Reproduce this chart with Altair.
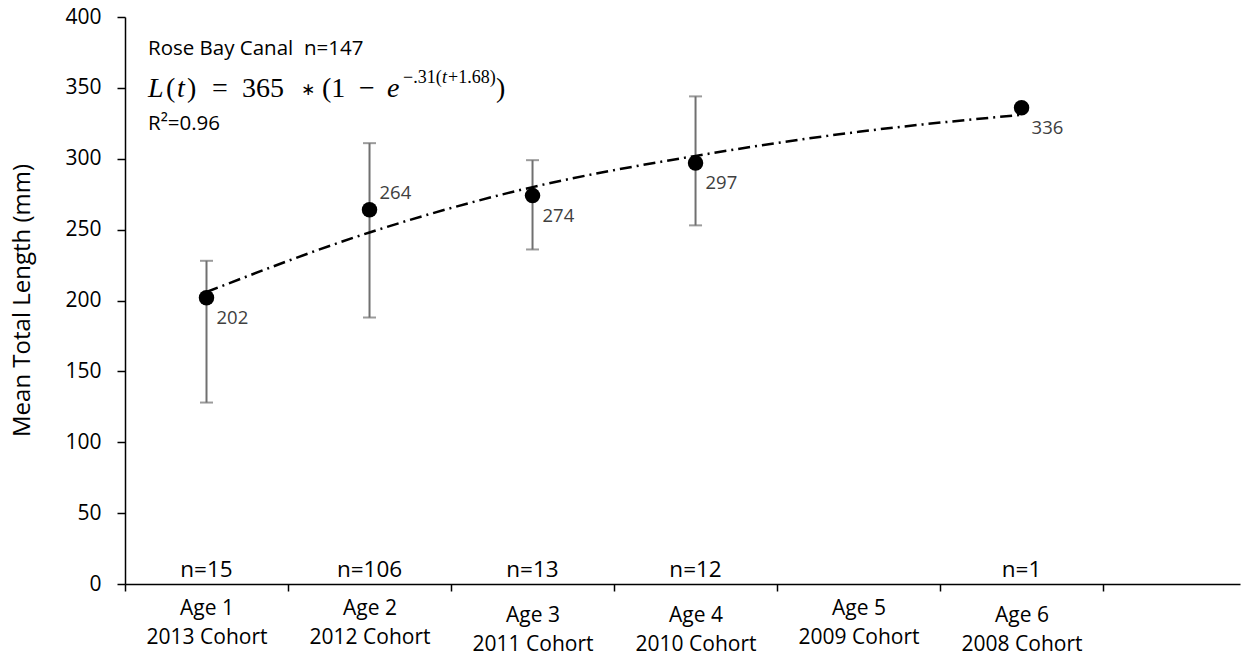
import altair as alt
import pandas as pd

# ---- data ----
point_age = [1, 2, 3, 4, 6]
point_mean = [202, 264, 274, 297, 336]
n_counts = [15, 106, 13, 12, 1]

err_age = [1, 2, 3, 4]
err_low = [128, 188, 236, 253]
err_high = [228, 311, 299, 344]

trend_age = [1, 2, 3, 4, 5, 6]
trend_len = [206, 248, 280, 302, 319, 331]

cat_age = [1, 2, 3, 4, 5, 6]
age_names = ["Age 1", "Age 2", "Age 3", "Age 4", "Age 5", "Age 6"]
cohort_names = ["2013 Cohort", "2012 Cohort", "2011 Cohort", "2010 Cohort", "2009 Cohort", "2008 Cohort"]

y_ticks = [0, 50, 100, 150, 200, 250, 300, 350, 400]

pts = pd.DataFrame({"age": point_age, "mean": point_mean, "n": [f"n={v}" for v in n_counts]})
errs = pd.DataFrame({"age": err_age, "low": err_low, "high": err_high})
trend = pd.DataFrame({"age": trend_age, "len": trend_len})
one = pd.DataFrame({"k": [0]})

FONT = "Open Sans"
SERIF = "Liberation Serif"

label_expr = " : ".join(
    f"datum.value == {a} ? ['{n}', '{c}']" for a, n, c in zip(cat_age, age_names, cohort_names)
) + " : ''"
tick_vals = sorted([a - 0.5 for a in cat_age] + list(cat_age) + [cat_age[-1] + 0.5])

xscale = alt.Scale(domain=[0.5, 7.34], nice=False, zero=False)
yscale = alt.Scale(domain=[0, 400], nice=False, zero=False)

x_axis = alt.Axis(
    values=tick_vals,
    labelExpr=label_expr,
    tickSize={"condition": {"test": "datum.value % 1 != 0", "value": 7}, "value": 0},
    labelPadding={"condition": {"test": "datum.value == 3 || datum.value == 4 || datum.value == 6", "value": 20}, "value": 13},
    labelFont=FONT, labelFontSize=21, labelColor="black", labelLineHeight=29,
    labelBaseline="top", labelFlush=False, labelOverlap=False,
    domainColor="black", domainWidth=1.5, tickColor="black", tickWidth=1.5,
    grid=False, title=None,
)
y_axis = alt.Axis(
    values=y_ticks, tickSize=8, labelPadding=16,
    labelFont=FONT, labelFontSize=21, labelColor="black",
    domainColor="black", domainWidth=1.5, tickColor="black", tickWidth=1.5,
    grid=False, title="Mean Total Length (mm)",
    titleFont=FONT, titleFontSize=24, titleFontWeight="normal", titleColor="black",
    titleX=-103, titleY=283, titleAngle=-90, titleBaseline="middle",
)

base_pts = alt.Chart(pts)

err_rule = alt.Chart(errs).mark_rule(color="#707070", strokeWidth=2).encode(
    x=alt.X("age:Q", scale=xscale, axis=x_axis),
    y=alt.Y("low:Q", scale=yscale, axis=y_axis),
    y2="high:Q",
)
cap_lo = alt.Chart(errs).mark_tick(color="#707070", orient="horizontal", size=13, thickness=2).encode(
    x=alt.X("age:Q", scale=xscale), y=alt.Y("low:Q", scale=yscale)
)
cap_hi = alt.Chart(errs).mark_tick(color="#707070", orient="horizontal", size=13, thickness=2).encode(
    x=alt.X("age:Q", scale=xscale), y=alt.Y("high:Q", scale=yscale)
)
trend_line = alt.Chart(trend).mark_line(
    color="black", strokeWidth=2.5, strokeDash=[12, 5, 2, 5], interpolate="monotone"
).encode(x=alt.X("age:Q", scale=xscale), y=alt.Y("len:Q", scale=yscale))

points = base_pts.mark_circle(color="black", size=240, opacity=1).encode(
    x=alt.X("age:Q", scale=xscale), y=alt.Y("mean:Q", scale=yscale)
)
lab_below = base_pts.transform_filter("datum.age != 2").mark_text(
    font=FONT, fontSize=18.5, color="#404040", align="left", baseline="middle", dx=10, dy=20
).encode(x=alt.X("age:Q", scale=xscale), y=alt.Y("mean:Q", scale=yscale), text="mean:Q")
lab_above = base_pts.transform_filter("datum.age == 2").mark_text(
    font=FONT, fontSize=18.5, color="#404040", align="left", baseline="middle", dx=10, dy=-17
).encode(x=alt.X("age:Q", scale=xscale), y=alt.Y("mean:Q", scale=yscale), text="mean:Q")
n_labels = base_pts.mark_text(
    font=FONT, fontSize=22.5, color="black", align="center", baseline="alphabetic", dy=-7
).encode(x=alt.X("age:Q", scale=xscale), y=alt.datum(0, scale=yscale), text="n:N")


def note(text, x, y, size=20.5, font=FONT, style="normal"):
    return alt.Chart(one).mark_text(
        text=text, font=font, fontSize=size, fontStyle=style, color="black",
        align="left", baseline="middle",
    ).encode(x=alt.value(x), y=alt.value(y))


notes = [
    note("Rose Bay Canal\u00a0 n=147", 23, 32),
    note("R\u00b2=0.96", 23, 107),
    note("L", 23, 72, 28, SERIF, "italic"),
    note("(", 41, 72, 28, SERIF),
    note("t", 52, 72, 28, SERIF, "italic"),
    note(")", 62, 72, 28, SERIF),
    note("=", 87, 72, 28, SERIF),
    note("365", 117, 72, 28, SERIF),
    note("\u2217", 176, 73, 17, "DejaVu Sans"),
    note("(1", 197, 72, 28, SERIF),
    note("\u2212", 234, 72, 28, SERIF),
    note("e", 262, 72, 28, SERIF, "italic"),
    note("\u2212.31(", 278, 61, 18, SERIF),
    note("t", 317, 61, 18, SERIF, "italic"),
    note("+1.68)", 323, 61, 18, SERIF),
    note(")", 371, 72, 28, SERIF),
]

chart = alt.layer(
    err_rule, cap_lo, cap_hi, trend_line, points, lab_below, lab_above, n_labels, *notes
).properties(
    width=1115, height=567,
    padding={"left": 125, "top": 17, "right": 1, "bottom": 84},
    autosize=alt.AutoSizeParams(type="none"),
    background="white",
).configure_view(stroke=None)

chart.save("out.html", embed_options={"renderer": "svg", "actions": False})
